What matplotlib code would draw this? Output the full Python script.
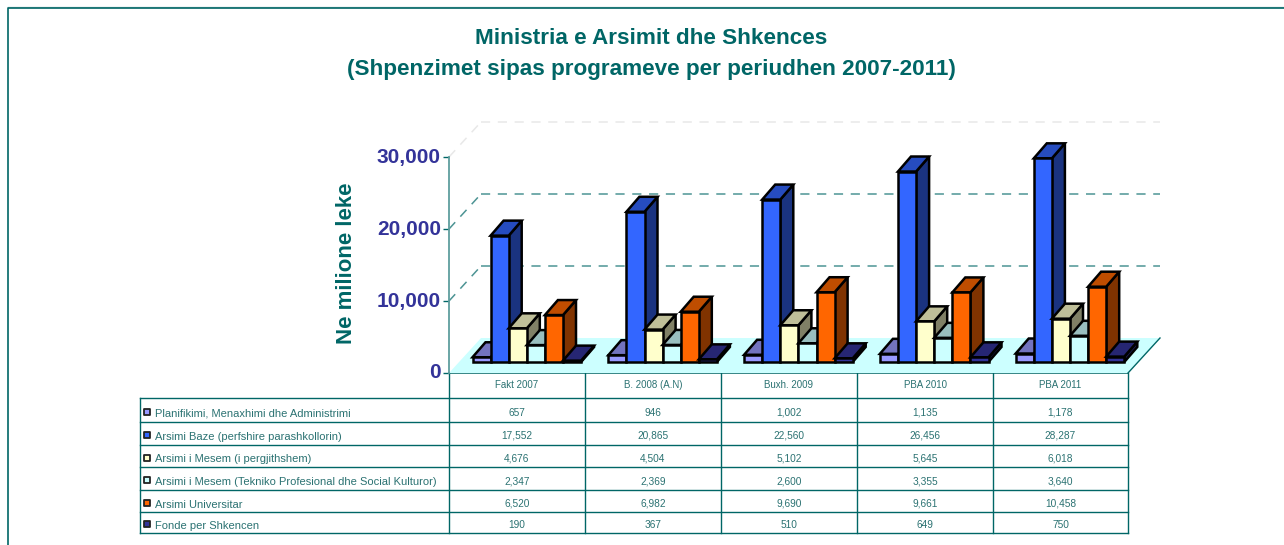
import matplotlib
matplotlib.use('Agg')
import matplotlib.pyplot as plt
from matplotlib.patches import Polygon

plt.rcParams['font.family'] = ['Liberation Sans', 'DejaVu Sans']

categories = ['Fakt 2007', 'B. 2008 (A.N)', 'Buxh. 2009', 'PBA 2010', 'PBA 2011']
planifikimi = [657, 946, 1002, 1135, 1178]
arsimi_baze = [17552, 20865, 22560, 26456, 28287]
mesem_pergj = [4676, 4504, 5102, 5645, 6018]
mesem_tekniko = [2347, 2369, 2600, 3355, 3640]
universitar = [6520, 6982, 9690, 9661, 10458]
shkence = [190, 367, 510, 649, 750]

series_names = [
    'Planifikimi, Menaxhimi dhe Administrimi',
    'Arsimi Baze (perfshire parashkollorin)',
    'Arsimi i Mesem (i pergjithshem)',
    'Arsimi i Mesem (Tekniko Profesional dhe Social Kulturor)',
    'Arsimi Universitar',
    'Fonde per Shkencen',
]
all_series = [planifikimi, arsimi_baze, mesem_pergj, mesem_tekniko, universitar, shkence]
yticks = [0, 10000, 20000, 30000]

# front, top, side colours of each series
colors = [
    ('#9999FF', '#7373BF', '#4D4D80'),
    ('#3366FF', '#264CBF', '#1A3380'),
    ('#FFFFCC', '#BFBF99', '#808066'),
    ('#CCFFFF', '#99BFBF', '#668080'),
    ('#FF6600', '#BF4D00', '#803300'),
    ('#333399', '#262673', '#1A1A4D'),
]

W, H = 1284, 545
TEAL = '#006666'
NAVY = '#333399'
GRID = '#4D9494'
TABLE_TEXT = '#2B7272'

fig = plt.figure(figsize=(W / 100, H / 100), dpi=100)

# full figure axes in pixels for the frame and the table
page = fig.add_axes([0, 0, 1, 1])
page.set_xlim(0, W)
page.set_ylim(H, 0)
page.axis('off')

# chart axes, front plane of the 3d box
x0, x1, y0, y1 = 449, 1128, 373, 157
ax = fig.add_axes([x0 / W, 1 - y0 / H, (x1 - x0) / W, (y0 - y1) / H])
ax.set_xlim(0, len(categories))
ax.set_ylim(0, 30000)
ax.patch.set_alpha(0)
for s in ['top', 'right', 'bottom']:
    ax.spines[s].set_visible(False)
ax.spines['left'].set_color('#5F9E9E')
ax.spines['left'].set_linewidth(1.3)
ax.set_xticks([])
ax.set_yticks(yticks)
ax.set_yticklabels([f'{v:,}' for v in yticks], fontsize=15, fontweight='bold', color=NAVY,
                   va='center')
ax.tick_params(axis='y', length=4.3, width=1, color=TEAL, pad=1.5)

# pixel sizes of the fake depth turned into data units
px_x = len(categories) / (x1 - x0)
px_y = 30000 / (y0 - y1)
floor_dx, floor_dy = 32 * px_x, 35 * px_y
bar_w, bar_dx, bar_dy = 18.1 * px_x, 13 * px_x, 15 * px_y
base_dx, base_dy = 10 * px_x, 11 * px_y
group_start = 13.5 * px_x


def poly(pts, fc, ec='black', lw=1.8, z=3):
    ax.add_patch(Polygon(pts, closed=True, facecolor=fc, edgecolor=ec, linewidth=lw,
                         joinstyle='miter', zorder=z, clip_on=False))


# floor
n = len(categories)
poly([(0, 0), (n, 0), (n + floor_dx, floor_dy), (floor_dx, floor_dy)], '#CCFFFF', ec='none', z=1)
ax.plot([n, n + floor_dx], [0, floor_dy], color=TEAL, lw=1, zorder=2, clip_on=False)

# gridlines on the back wall and the side wall
for v in yticks[1:]:
    c = '#E8E8E8' if v == 30000 else GRID
    ax.plot([floor_dx, n + floor_dx], [v + floor_dy] * 2, color=c, lw=1.1, dashes=(6, 5), zorder=1, clip_on=False)
    ax.plot([0, floor_dx], [v, v + floor_dy], color=c, lw=1.1, dashes=(6, 5), zorder=1, clip_on=False)

# bars, left to right so that each one covers the side of the last
for i in range(n):
    for j, vals in enumerate(all_series):
        v = vals[i]
        l = i + group_start + base_dx + j * bar_w
        r = l + bar_w
        b = base_dy
        t = b + v
        front, top, side = colors[j]
        poly([(r, b), (r + bar_dx, b + bar_dy), (r + bar_dx, t + bar_dy), (r, t)], side)
        poly([(l, t), (r, t), (r + bar_dx, t + bar_dy), (l + bar_dx, t + bar_dy)], top)
        poly([(l, b), (r, b), (r, t), (l, t)], front)

# titles
page.text(651, 38, 'Ministria e Arsimit dhe Shkences', ha='center', va='center',
          fontsize=16.2, fontweight='bold', color=TEAL)
page.text(651, 70, '(Shpenzimet sipas programeve per periudhen 2007-2011)', ha='center', va='center',
          fontsize=16.2, fontweight='bold', color=TEAL)
page.text(346, 263, 'Ne milione leke', ha='center', va='center', rotation=90,
          fontsize=16, fontweight='bold', color=TEAL)

# outer frame, the right and bottom sides are cut off in the original
page.plot([8, W], [7, 7], color='#B5CFCF', lw=1)
page.plot([8, 8, W], [H, 8, 8], color=TEAL, lw=1.2)

# table
col_x = [449, 585, 721, 857, 993, 1128]
row_y = [398, 422, 445, 467, 490, 512, 533]
tbl_left = 140
page.plot([col_x[0], col_x[-1]], [373, 373], color=TEAL, lw=1.1)
for x in col_x:
    page.plot([x, x], [373, 533], color=TEAL, lw=1)
page.plot([tbl_left, tbl_left], [398, 533], color=TEAL, lw=1)
for y in row_y:
    page.plot([tbl_left, col_x[-1]], [y, y], color=TEAL, lw=1)

for i, c in enumerate(categories):
    page.text((col_x[i] + col_x[i + 1]) / 2, 385.5, c, ha='center', va='center', fontsize=7, color=TABLE_TEXT)

for j, name in enumerate(series_names):
    ym = (row_y[j] + row_y[j + 1]) / 2
    page.scatter([147], [ym + 1.5], s=20, marker='s', color=colors[j][0], edgecolors='#222222', linewidths=1.3)
    page.text(155, ym + 3.5, name, ha='left', va='center', fontsize=8, color=TABLE_TEXT)
    for i, v in enumerate(all_series[j]):
        page.text((col_x[i] + col_x[i + 1]) / 2, ym + 2.5, f'{v:,}', ha='center', va='center', fontsize=7.3, color=TABLE_TEXT)

fig.savefig('out.png', dpi=100)
